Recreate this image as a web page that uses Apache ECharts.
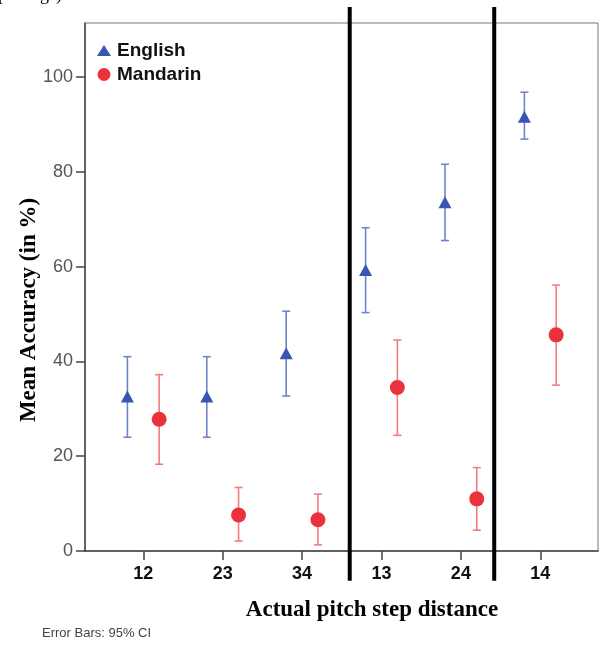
<!DOCTYPE html>
<html>
<head>
<meta charset="utf-8">
<script src="https://cdn.jsdelivr.net/npm/echarts@6/dist/echarts.min.js"></script>
<style>html,body{margin:0;padding:0;background:#fff}#c{width:599px;height:650px}</style>
</head>
<body>
<div id="c"></div>
<script>
// ---- data ----
var categories = ['12', '23', '34', '13', '24', '14'];
var englishMean = [32.6, 32.6, 41.7, 59.3, 73.6, 91.6];
var englishLow  = [24.0, 24.0, 32.7, 50.3, 65.5, 86.9];
var englishHigh = [41.0, 41.0, 50.6, 68.2, 81.6, 96.8];
var mandarinMean = [27.8, 7.6, 6.6, 34.5, 11.0, 45.6];
var mandarinLow  = [18.3, 2.1, 1.3, 24.4, 4.4, 35.0];
var mandarinHigh = [37.2, 13.4, 12.0, 44.5, 17.6, 56.1];
var yTicks = [0, 20, 40, 60, 80, 100];
var dividers = [2.6, 4.42]; // group separators, in category units

// ---- layout helpers ----
var OFF = 0.2; // horizontal dodge of the two groups (category units)
var catIdx = categories.map(function (c, i) { return i; });
function pts(mean, off) { return mean.map(function (v, i) { return [i + off, v]; }); }
function bars(lo, hi, off) { return lo.map(function (v, i) { return [i + off, v, hi[i]]; }); }

function errRender(color) {
  return function (params, api) {
    var x = api.value(0);
    var a = api.coord([x, api.value(2)]);
    var b = api.coord([x, api.value(1)]);
    var w = 4;
    var st = { stroke: color, lineWidth: 1.6 };
    return {
      type: 'group',
      children: [
        { type: 'line', shape: { x1: a[0], y1: a[1], x2: b[0], y2: b[1] }, style: st },
        { type: 'line', shape: { x1: a[0] - w, y1: a[1], x2: a[0] + w, y2: a[1] }, style: st },
        { type: 'line', shape: { x1: b[0] - w, y1: b[1], x2: b[0] + w, y2: b[1] }, style: st }
      ]
    };
  };
}

var chart = echarts.init(document.getElementById('c'), null, { renderer: 'canvas' });
var option = {
  animation: false,
  backgroundColor: '#fff',
  grid: { left: 85, top: 23, right: 1, bottom: 99, show: true, borderColor: '#777', borderWidth: 1 },
  legend: {
    left: 92, top: 36, orient: 'vertical', itemGap: 5,
    itemWidth: 14, itemHeight: 13,
    textStyle: { fontFamily: 'Liberation Sans, Arial', fontSize: 19, fontWeight: 'bold', color: '#111', padding: [0, 0, 0, 1] },
    data: [{ name: 'English', icon: 'path://M7,0L12,8L2,8Z' }, { name: 'Mandarin', icon: 'circle' }]
  },
  xAxis: {
    type: 'value', min: -0.734, max: 5.727,
    axisLine: { show: true, onZero: false, lineStyle: { color: '#444', width: 1.5 } },
    axisTick: { show: true, length: 9, customValues: catIdx, lineStyle: { color: '#444', width: 1.5 } },
    axisLabel: {
      customValues: catIdx, margin: 14,
      formatter: function (v) { return categories[Math.round(v)]; },
      fontFamily: 'Liberation Sans, Arial', fontSize: 18, fontWeight: 'bold', color: '#111'
    },
    splitLine: { show: false }
  },
  yAxis: {
    type: 'value', min: 0, max: 111.4,
    axisLine: { show: true, onZero: false, lineStyle: { color: '#444', width: 1.5 } },
    axisTick: { show: true, length: 9, customValues: yTicks, lineStyle: { color: '#444', width: 1.5 } },
    axisLabel: { customValues: yTicks, margin: 12, fontFamily: 'Liberation Sans, Arial', fontSize: 18, color: '#555' },
    splitLine: { show: false }
  },
  graphic: [
    { type: 'text', left: -2, top: -14, style: { text: 'pairings).', font: '18px "Liberation Serif"', fill: '#000' } },
    { type: 'text', x: 29, y: 310, rotation: Math.PI / 2,
      style: { text: 'Mean Accuracy (in %)', font: 'bold 23px "Liberation Serif"', fill: '#000', align: 'center', verticalAlign: 'middle' } },
    { type: 'text', x: 372, y: 610,
      style: { text: 'Actual pitch step distance', font: 'bold 23px "Liberation Serif"', fill: '#000', align: 'center', verticalAlign: 'middle' } },
    { type: 'text', x: 42, y: 633,
      style: { text: 'Error Bars: 95% CI', font: '13px "Liberation Sans"', fill: '#444', align: 'left', verticalAlign: 'middle' } }
  ],
  series: [
    {
      name: 'dividers', type: 'custom', clip: false, silent: true, z: 10,
      data: dividers.map(function (d) { return [d]; }),
      renderItem: function (params, api) {
        var x = api.value(0);
        var a = api.coord([x, 114.8]);
        var b = api.coord([x, -6.3]);
        return { type: 'line', shape: { x1: a[0], y1: a[1], x2: b[0], y2: b[1] }, style: { stroke: '#000', lineWidth: 4 } };
      }
    },
    { name: 'English CI', type: 'custom', renderItem: errRender('#7284c9'), data: bars(englishLow, englishHigh, -OFF), z: 3 },
    { name: 'Mandarin CI', type: 'custom', renderItem: errRender('#f27b80'), data: bars(mandarinLow, mandarinHigh, OFF), z: 3 },
    { name: 'English', type: 'scatter', symbol: 'triangle', symbolSize: [13, 12], itemStyle: { color: '#3a55b4', opacity: 1 }, data: pts(englishMean, -OFF), z: 5 },
    { name: 'Mandarin', type: 'scatter', symbol: 'circle', symbolSize: 15, itemStyle: { color: '#e9323c', opacity: 1 }, data: pts(mandarinMean, OFF), z: 5 }
  ]
};
chart.setOption(option);
</script>
</body>
</html>
